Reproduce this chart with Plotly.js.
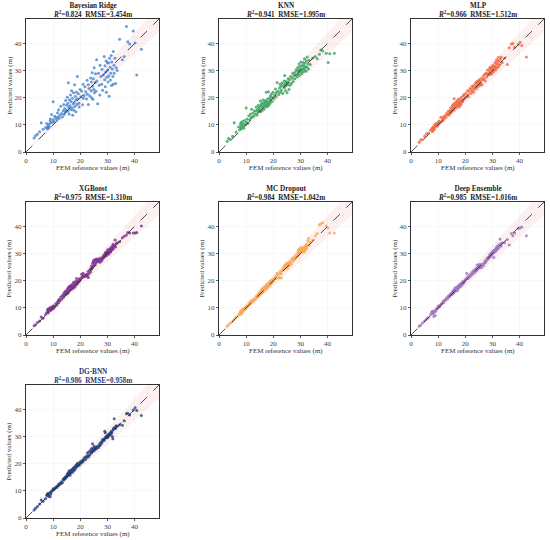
<!DOCTYPE html>
<html><head><meta charset="utf-8">
<script src="https://cdn.plot.ly/plotly-3.0.1.min.js"></script>
<style>html,body{margin:0;padding:0;background:#fff}#chart{width:550px;height:540px}</style>
</head><body><div id="chart"></div>
<script>
// FEM reference values (m), shared test set
const femRef = [
3.0,3.5,4.2,5.0,5.6,6.3,7.2,7.6,7.9,8.0,
8.1,8.2,8.4,8.6,8.9,9.0,9.1,9.4,9.7,10.0,
10.1,10.3,10.6,11.0,11.3,11.6,11.9,12.0,12.2,12.5,
12.8,13.1,13.4,13.7,13.9,14.0,14.2,14.5,14.6,14.8,
15.0,15.2,15.3,15.4,15.6,15.8,15.9,16.0,16.2,16.4,
16.5,16.6,16.8,17.0,17.1,17.2,17.4,17.5,17.6,17.8,
17.9,18.0,18.2,18.3,18.4,18.6,18.8,18.9,19.0,19.3,
19.5,19.6,19.9,20.2,20.5,20.8,21.0,21.1,21.4,21.7,
22.0,22.3,22.5,22.6,22.9,23.0,23.2,23.5,23.8,24.0,
24.1,24.2,24.4,24.5,24.6,24.8,25.0,25.1,25.2,25.5,
25.6,25.8,26.0,26.1,26.4,26.7,27.0,27.2,27.3,27.6,
27.9,28.0,28.2,28.5,28.8,29.0,29.1,29.2,29.4,29.5,
29.6,29.8,30.0,30.1,30.2,30.4,30.5,30.6,30.8,31.0,
31.1,31.2,31.4,31.5,31.6,31.8,32.0,32.1,32.2,32.4,
32.5,32.8,33.0,33.2,33.6,34.5,35.5,36.2,37.0,37.5,
38.2,39.5,40.2,40.8,42.5];

const predBayesianRidge = [
5.2,6.0,6.5,7.5,10.8,8.4,9.0,10.5,8.6,9.3,
8.8,9.6,10.2,9.2,11.5,12.2,10.8,13.8,11.0,18.5,
12.0,11.2,13.2,12.8,12.1,14.5,13.0,15.6,12.4,13.6,
16.9,14.2,12.9,15.2,17.5,13.8,16.0,14.7,19.0,15.5,
17.2,20.2,15.0,18.0,25.5,16.4,14.0,19.3,17.0,21.0,
15.6,18.6,22.6,16.2,19.8,13.5,17.8,21.8,15.4,18.2,
24.8,16.8,20.5,19.2,14.8,22.0,17.5,27.8,19.6,21.5,
18.0,16.6,23.0,20.4,22.5,17.4,25.0,19.8,20.8,24.0,
22.2,19.5,26.4,21.3,24.8,17.5,23.4,20.6,27.3,22.6,
25.8,20.0,29.2,24.2,19.4,27.0,23.0,31.0,21.8,25.6,
28.8,22.4,34.0,26.2,17.8,29.0,24.6,21.0,32.0,27.8,
25.0,30.5,22.8,28.4,35.2,26.6,31.8,24.0,29.5,33.5,
22.0,27.5,33.0,30.2,25.8,32.8,28.0,20.5,34.5,31.2,
26.5,29.0,35.6,24.5,33.2,30.6,27.8,25.0,37.0,32.0,
29.0,34.5,25.2,31.0,30.0,41.5,34.0,35.2,46.2,40.6,
39.8,44.6,40.2,28.4,37.9];

const predKNN = [
4.0,5.0,4.6,5.8,10.8,7.4,9.2,8.2,10.2,9.0,
10.8,8.6,9.8,11.2,9.4,10.4,8.8,11.6,10.0,16.2,
11.0,12.2,10.6,13.4,12.0,14.0,12.6,15.8,13.0,14.4,
13.2,15.2,14.0,16.6,15.0,13.6,15.8,17.2,15.0,16.4,
15.6,18.8,14.8,16.9,17.6,15.2,18.0,16.4,19.2,17.0,
15.8,18.2,17.4,19.0,16.6,18.0,22.0,17.2,18.6,16.8,
19.5,17.8,22.2,18.4,17.2,19.8,18.0,20.6,19.0,21.4,
18.6,20.2,22.0,19.6,21.0,23.2,20.4,21.8,25.6,22.4,
21.2,23.6,25.0,22.0,24.2,22.8,25.4,21.6,24.6,26.2,
23.8,28.2,25.2,22.6,24.4,26.0,25.4,21.8,24.8,27.0,
25.6,23.0,26.6,24.6,27.8,25.2,27.2,29.0,26.0,28.2,
27.0,29.4,28.4,30.4,27.6,29.8,31.2,28.6,30.0,32.4,
28.2,30.6,29.4,31.6,33.2,30.2,28.8,31.8,30.6,33.0,
29.6,32.0,31.0,34.4,30.2,32.8,31.4,29.8,33.6,31.2,
35.0,32.4,30.6,33.8,32.2,34.6,35.2,34.4,36.0,37.6,
37.2,36.4,33.0,36.2,36.4];

const predMLP = [
3.6,4.4,4.6,5.8,6.6,7.0,8.0,8.6,7.6,9.0,
8.6,8.0,9.4,8.4,10.2,9.2,9.8,10.6,9.6,10.8,
10.2,11.4,10.8,12.8,11.2,12.2,11.8,13.0,12.4,13.4,
12.8,14.2,13.6,15.0,14.0,13.6,15.2,14.4,16.2,15.4,
14.8,17.0,15.6,16.4,17.6,15.4,19.6,16.8,18.0,17.2,
16.2,18.4,17.6,18.8,16.8,17.8,19.4,17.0,18.2,16.6,
18.8,17.6,19.6,18.2,17.4,20.2,18.4,19.0,18.6,20.8,
19.4,21.2,20.0,21.6,20.4,22.6,21.0,20.4,22.4,23.4,
21.6,23.0,24.2,22.4,23.8,22.0,24.6,23.0,25.4,24.2,
25.6,23.6,26.0,24.8,25.8,24.2,26.2,25.0,26.6,24.6,
26.0,25.2,27.2,24.8,26.6,28.0,27.0,28.6,26.2,29.0,
27.6,28.8,30.2,28.4,29.6,31.0,28.6,30.4,31.2,29.2,
30.6,28.8,31.2,30.0,32.0,30.4,29.6,31.6,30.8,33.0,
31.4,30.2,32.4,34.0,31.0,32.6,33.4,31.2,34.8,32.0,
33.6,32.2,34.4,35.0,33.0,34.6,32.2,38.4,39.8,40.0,
38.6,39.6,40.4,39.2,35.0];

const predXGBoost = [
3.4,3.8,4.6,5.2,6.6,6.2,7.6,8.2,9.2,8.4,
9.6,8.2,9.0,9.8,9.4,10.2,9.0,9.8,10.4,9.6,
10.8,10.2,10.4,11.6,11.0,12.2,12.6,11.8,13.2,12.6,
14.0,13.2,14.6,13.8,15.2,14.4,15.8,14.8,16.2,15.4,
16.0,15.2,16.8,17.2,15.8,17.6,16.4,18.0,16.6,17.8,
16.8,18.2,17.2,18.6,17.0,18.0,17.6,19.4,17.8,18.6,
17.6,19.0,18.2,19.8,18.6,20.8,18.8,19.6,19.2,20.0,
19.6,20.6,20.2,21.0,22.4,21.6,22.8,21.4,21.8,22.0,
21.6,22.4,21.8,22.2,23.4,21.2,22.6,24.0,23.2,24.6,
24.2,25.4,24.8,26.4,25.2,27.4,25.6,26.8,27.6,26.0,
27.8,26.6,28.0,27.2,27.6,27.0,28.2,27.6,26.8,28.0,
27.4,28.6,28.0,29.2,28.6,29.8,29.2,30.2,29.6,30.6,
29.2,30.4,30.0,31.4,30.6,29.8,31.0,30.4,31.8,30.8,
31.4,30.6,32.0,31.2,32.6,31.6,32.2,33.4,31.8,32.6,
33.0,35.0,32.4,33.6,34.0,34.4,35.8,36.4,36.8,37.8,
37.6,37.6,37.6,37.8,40.2];

const predMCDropout = [
3.2,3.8,4.4,5.0,5.8,6.6,7.4,8.0,8.6,7.6,
9.0,8.4,8.0,9.2,9.6,8.8,9.4,10.0,9.6,10.4,
10.0,10.8,10.6,11.8,11.2,12.4,11.8,12.6,12.2,13.0,
12.6,13.4,13.2,14.2,13.8,14.6,14.0,15.0,14.4,15.6,
14.8,15.8,15.2,16.4,15.4,17.0,16.0,16.6,15.8,17.4,
16.4,17.0,17.8,16.8,17.6,18.0,17.0,18.6,17.8,18.2,
17.4,18.8,18.0,19.0,18.6,19.6,18.4,19.2,18.8,20.2,
19.2,20.0,19.8,20.8,20.6,21.4,20.8,21.8,22.8,22.2,
21.0,21.2,22.8,23.4,22.6,21.0,23.8,24.4,24.0,25.2,
24.6,25.6,24.8,26.0,25.4,25.2,26.4,25.8,24.6,26.2,
25.4,26.8,25.6,26.4,27.4,26.2,28.0,27.2,28.4,27.8,
28.6,28.0,29.2,28.8,29.0,30.2,29.4,31.0,29.8,31.6,
30.4,31.8,30.6,31.4,32.2,30.8,31.6,31.0,32.0,30.6,
31.8,31.2,32.4,30.8,32.0,31.4,33.0,32.6,31.8,33.4,
32.8,34.6,35.6,33.2,34.2,35.0,36.6,37.4,40.6,41.0,
41.4,40.2,39.4,37.6,37.6];

const predDeepEnsemble = [
3.2,3.6,4.4,5.2,5.8,6.4,7.6,8.4,8.8,7.8,
8.2,8.8,6.8,8.4,7.2,9.2,8.8,9.6,9.8,10.6,
10.2,10.8,10.4,11.2,11.6,11.8,12.4,12.0,12.6,12.8,
13.0,13.6,13.4,14.2,14.0,14.6,14.2,14.8,15.2,14.8,
15.4,15.0,16.0,15.6,16.2,15.6,16.8,16.2,17.4,16.6,
16.2,17.2,16.8,17.6,16.4,17.8,17.2,18.2,17.4,18.0,
18.4,17.8,18.6,18.0,19.0,18.4,19.2,18.6,19.6,19.2,
19.8,19.4,20.2,20.6,22.8,21.2,20.8,21.6,22.0,21.4,
22.4,22.0,23.0,22.6,23.4,23.6,22.8,24.0,23.4,24.4,
23.8,24.6,25.8,24.2,25.0,24.6,25.4,24.8,26.0,25.2,
24.8,26.0,25.6,25.0,26.2,25.6,26.4,27.4,26.6,27.0,
27.6,28.4,27.8,28.6,28.4,29.4,28.8,29.8,29.2,30.0,
29.4,30.4,29.8,30.8,30.2,30.6,28.6,31.2,30.6,31.4,
30.8,31.8,31.2,32.2,31.6,32.6,31.8,32.4,33.0,32.2,
33.2,35.4,33.6,32.8,34.0,34.0,35.2,33.2,37.4,36.6,
37.6,39.2,39.4,39.8,36.6];

const predDGBNN = [
3.0,3.6,4.2,5.2,6.6,6.2,7.2,8.4,8.8,9.0,
8.2,8.6,8.0,9.2,7.8,9.4,8.8,9.8,10.2,10.8,
10.4,10.6,11.0,11.4,11.2,11.8,12.0,12.4,12.2,12.8,
12.6,13.4,13.0,14.4,14.0,14.2,14.8,14.6,15.0,15.4,
15.2,16.0,15.6,16.4,16.8,16.0,17.4,16.6,15.8,17.0,
16.6,17.6,17.0,18.0,17.4,17.0,18.2,17.8,18.6,17.6,
18.4,18.0,19.0,18.6,19.4,18.8,19.8,19.2,20.2,19.6,
20.0,19.4,20.6,20.2,21.0,20.6,21.4,21.0,21.8,22.4,
21.6,22.8,22.4,24.0,23.0,22.6,24.4,23.2,25.0,24.2,
24.0,25.6,24.8,27.4,25.2,24.6,25.8,26.4,25.0,25.6,
26.0,25.4,26.2,25.8,26.4,26.0,27.0,26.6,27.6,27.2,
28.2,27.8,28.8,29.0,28.6,32.0,29.4,31.4,29.6,30.0,
29.8,30.2,29.6,30.4,30.0,30.8,30.2,31.0,30.6,31.2,
30.8,31.6,31.2,32.0,31.4,30.0,29.2,32.4,32.8,33.2,
36.6,33.4,33.0,34.0,33.8,34.4,34.2,35.8,38.4,38.6,
38.0,39.8,40.6,39.6,37.8];

const modelNames = ["Bayesian Ridge","KNN","MLP","XGBoost","MC Dropout","Deep Ensemble","DG-BNN"];
const r2Values = ["0.824","0.941","0.966","0.975","0.984","0.985","0.986"];
const rmseValues = ["3.454","1.995","1.512","1.310","1.042","1.016","0.958"];
const predictions = [predBayesianRidge,predKNN,predMLP,predXGBoost,predMCDropout,predDeepEnsemble,predDGBNN];
const colors = ["#4585d2","#35a35c","#f4663e","#7d2f8f","#f8a857","#9d76bc","#27427c"];
const axisMax = 49;
const bandPct = 0.1;

const W = 550, H = 540;
const colDom = [[0.0473,0.2891],[0.3982,0.64],[0.7473,0.9891]];
const rowDom = [[0.7185,0.9648],[0.3796,0.6259],[0.0407,0.287]];
const FONT = "Liberation Serif, Times New Roman, serif";

const traces = [];
const layout = {
  width:W, height:H, margin:{l:0,r:0,t:0,b:0},
  paper_bgcolor:"#fff", plot_bgcolor:"#fff", showlegend:false,
  font:{family:FONT, size:7, color:"#333"},
  annotations:[]
};
for (let i=0;i<7;i++){
  const r = Math.floor(i/3), c = i%3;
  const xa = i===0?"x":"x"+(i+1), ya = i===0?"y":"y"+(i+1);
  const xk = i===0?"xaxis":"xaxis"+(i+1), yk = i===0?"yaxis":"yaxis"+(i+1);
  const common = {range:[0,axisMax], dtick:10, tick0:0, ticks:"outside", ticklen:2, tickwidth:0.8,
    tickcolor:"#333", showline:true, linecolor:"#333", linewidth:1, mirror:true,
    showgrid:true, gridcolor:"#f1f1f1", gridwidth:0.6, zeroline:false,
    tickfont:{family:FONT,size:7,color:"#444"}, fixedrange:true};
  layout[xk] = Object.assign({}, common, {domain:colDom[c], anchor:ya});
  layout[yk] = Object.assign({}, common, {domain:rowDom[r], anchor:xa});
  traces.push({x:[0,axisMax], y:[0,axisMax*(1-bandPct)], xaxis:xa, yaxis:ya, mode:"lines",
    line:{width:0,color:"rgba(0,0,0,0)"}, hoverinfo:"skip"});
  traces.push({x:[0,axisMax], y:[0,axisMax*(1+bandPct)], xaxis:xa, yaxis:ya, mode:"lines",
    line:{width:0,color:"rgba(0,0,0,0)"}, fill:"tonexty", fillcolor:"rgba(240,140,140,0.13)", hoverinfo:"skip"});
  traces.push({x:femRef, y:predictions[i], xaxis:xa, yaxis:ya, mode:"markers", type:"scatter",
    marker:{size:3, color:colors[i], opacity:0.8, line:{width:0}}});
  traces.push({x:[0,axisMax], y:[0,axisMax], xaxis:xa, yaxis:ya, mode:"lines",
    line:{color:"#222", width:0.8, dash:"dash"}});
  const tcol = i===6 ? "#1f3c7a" : "#222";
  const xmid = (colDom[c][0]+colDom[c][1])/2, ymid = (rowDom[r][0]+rowDom[r][1])/2;
  layout.annotations.push({xref:"paper", yref:"paper", x:xmid, y:rowDom[r][1],
    yanchor:"bottom", xanchor:"center", yshift:-2, showarrow:false, align:"center",
    text:"<b>"+modelNames[i]+"</b><br><b><i>R</i><sup>2</sup>="+r2Values[i]+"  RMSE="+rmseValues[i]+"m</b>",
    font:{family:FONT,size:7.2,color:tcol}});
  layout.annotations.push({xref:"paper", yref:"paper", x:xmid, y:rowDom[r][0],
    yanchor:"top", xanchor:"center", yshift:-10, showarrow:false,
    text:"FEM reference values (m)", font:{family:FONT,size:7,color:"#333"}});
  layout.annotations.push({xref:"paper", yref:"paper", x:colDom[c][0], y:ymid,
    yanchor:"middle", xanchor:"right", xshift:-11, showarrow:false, textangle:-90,
    text:"Predicted values (m)", font:{family:FONT,size:7,color:"#333"}});
}
Plotly.newPlot("chart", traces, layout, {staticPlot:true, displayModeBar:false});
</script></body></html>
